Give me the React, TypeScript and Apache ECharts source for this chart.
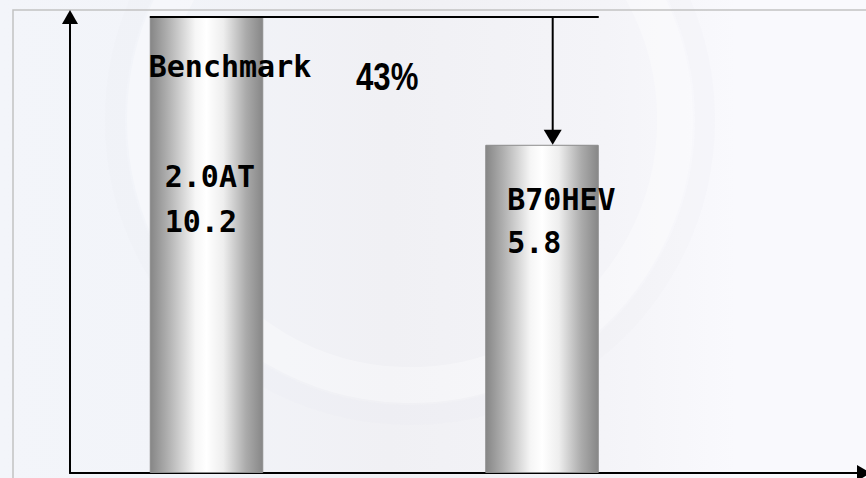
import React, { useEffect, useRef } from 'react';
import * as echarts from 'echarts';

// ---- data ----
const categories = ['2.0AT', 'B70HEV'];
const fuelValues = [10.2, 5.8];
const benchmarkText = 'Benchmark';
const reductionText = '43%';
// hidden value scale (the drawing is not zero based)
const scaleMin = -5.5;
const scaleMax = 10.2;

// ---- styles ----
const MONO = '"DejaVu Sans Mono", "Liberation Mono", monospace';
const labelLayouts = [
  { position: [15, 137], lineHeight: 45 },
  { position: [22, 33], lineHeight: 43 },
];
const BAR_WIDTH = 113.5;

export default function App() {
  const ref = useRef<HTMLDivElement>(null);

  useEffect(() => {
    const chart = echarts.init(ref.current!, null, { renderer: 'svg' });

    const barGradient = new echarts.graphic.LinearGradient(0, 0, 1, 0, [
      { offset: 0, color: '#868686' },
      { offset: 0.15, color: '#aeaeae' },
      { offset: 0.4, color: '#f6f6f6' },
      { offset: 0.5, color: '#ffffff' },
      { offset: 0.65, color: '#eeeeee' },
      { offset: 0.85, color: '#ababab' },
      { offset: 1, color: '#878787' },
    ]);

    const axisLine = {
      show: true,
      onZero: false,
      lineStyle: { color: '#000', width: 2 },
      symbol: ['none', 'triangle'],
      symbolSize: [16, 14],
    };

    chart.setOption({
      animation: false,
      backgroundColor: 'transparent',
      grid: [
        { left: 70, right: 2, top: 17, bottom: 5 },
        { left: 38.75, width: 671, top: 17, bottom: 5 },
      ],
      xAxis: [
        {
          gridIndex: 0,
          type: 'value',
          min: 0,
          max: 1,
          axisLine,
          axisTick: { show: false },
          axisLabel: { show: false },
          splitLine: { show: false },
        },
        { gridIndex: 1, type: 'category', data: categories, show: false },
      ],
      yAxis: [
        {
          gridIndex: 0,
          type: 'value',
          min: scaleMin,
          max: scaleMax,
          axisLine,
          axisTick: { show: false },
          axisLabel: { show: false },
          splitLine: { show: false },
        },
        {
          gridIndex: 1,
          type: 'value',
          min: scaleMin,
          max: scaleMax,
          startValue: scaleMin,
          show: false,
          splitLine: { show: false },
        },
      ],
      series: [
        {
          type: 'bar',
          xAxisIndex: 1,
          yAxisIndex: 1,
          barWidth: BAR_WIDTH,
          itemStyle: { color: barGradient, borderColor: '#8c8c8c', borderWidth: 1 },
          label: {
            show: true,
            formatter: '{b}\n{c}',
            fontFamily: MONO,
            fontWeight: 'bold',
            fontSize: 30,
            color: '#000',
            align: 'left',
            verticalAlign: 'top',
          },
          data: categories.map((c, i) => ({
            name: c,
            value: fuelValues[i],
            label: labelLayouts[i],
          })),
        },
      ],
    });

    const p1 = chart.convertToPixel({ seriesIndex: 0 }, [categories[0], fuelValues[0]]) as number[];
    const p2 = chart.convertToPixel({ seriesIndex: 0 }, [categories[1], fuelValues[1]]) as number[];
    const half = BAR_WIDTH / 2;
    const arrowX = p2[0] + 10.7;

    chart.setOption({
      graphic: [
        {
          type: 'rect',
          z: -10,
          silent: true,
          shape: { x: 0, y: 0, width: 866, height: 478 },
          style: {
            fill: new echarts.graphic.LinearGradient(0, 0, 1, 0, [
              { offset: 0, color: '#f3f5fa' },
              { offset: 0.2, color: '#f2f4f9' },
              { offset: 0.45, color: '#f0f0f4' },
              { offset: 0.7, color: '#f4f4f8' },
              { offset: 0.85, color: '#f9f9fd' },
              { offset: 1, color: '#f9f9fd' },
            ]),
          },
        },
        {
          type: 'circle',
          z: -9,
          silent: true,
          shape: { cx: 410, cy: 120, r: 265 },
          style: { fill: 'none', stroke: 'rgba(255,255,255,0.3)', lineWidth: 36 },
        },
        {
          type: 'circle',
          z: -9,
          silent: true,
          shape: { cx: 410, cy: 120, r: 295 },
          style: { fill: 'none', stroke: 'rgba(230,230,236,0.12)', lineWidth: 20 },
        },
        {
          type: 'polyline',
          z: -8,
          silent: true,
          shape: { points: [[13, 478], [13, 10], [866, 10]] },
          style: { fill: 'none', stroke: '#c2c2c2', lineWidth: 1.5 },
        },
        {
          type: 'line',
          z: 20,
          shape: { x1: p1[0] - half, y1: p1[1], x2: p2[0] + half, y2: p1[1] },
          style: { stroke: '#000', lineWidth: 2 },
        },
        {
          type: 'line',
          z: 20,
          shape: { x1: arrowX, y1: p1[1], x2: arrowX, y2: p2[1] - 14 },
          style: { stroke: '#000', lineWidth: 2 },
        },
        {
          type: 'polygon',
          z: 20,
          shape: { points: [[arrowX - 9, p2[1] - 15], [arrowX + 9, p2[1] - 15], [arrowX, p2[1]]] },
          style: { fill: '#000' },
        },
        {
          type: 'text',
          z: 20,
          style: {
            text: benchmarkText,
            x: p1[0] - half - 1,
            y: 66.5,
            font: 'bold 30px ' + MONO,
            fill: '#000',
            textAlign: 'left',
            textVerticalAlign: 'middle',
          },
        },
        {
          type: 'text',
          z: 20,
          x: 356,
          y: 77,
          scaleX: 0.82,
          style: {
            text: reductionText,
            x: 0,
            y: 0,
            font: 'bold 38px "Liberation Sans", Arial, sans-serif',
            fill: '#000',
            textAlign: 'left',
            textVerticalAlign: 'middle',
          },
        },
      ],
    });

    return () => chart.dispose();
  }, []);

  return (
    <div
      ref={ref}
      style={{ position: 'fixed', left: 0, top: 0, width: 866, height: 478, background: '#f4f4f8' }}
    />
  );
}
